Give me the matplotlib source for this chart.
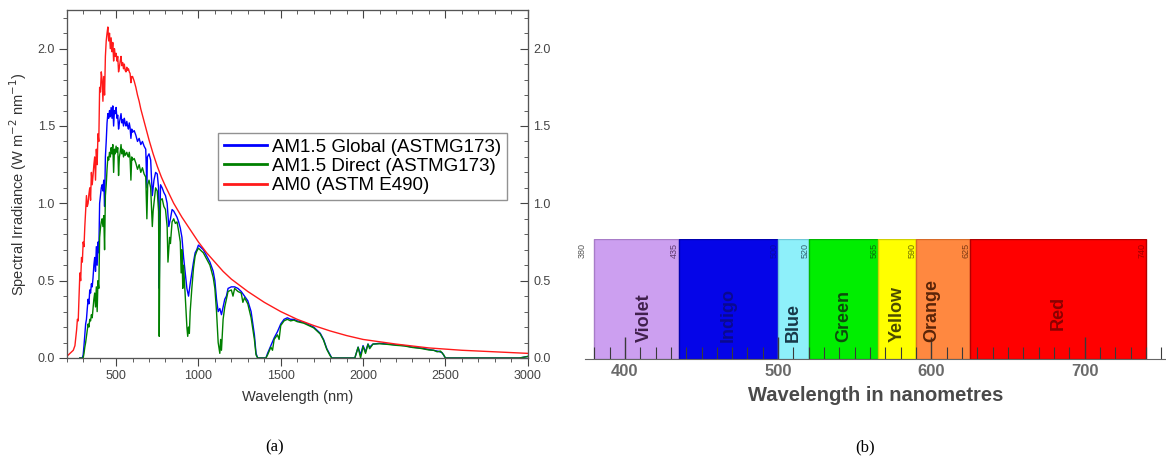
import matplotlib
matplotlib.use("Agg")
import matplotlib.pyplot as plt
from matplotlib.ticker import MultipleLocator

plt.rcParams['font.family'] = ['Liberation Sans', 'DejaVu Sans']

# ---- (a) solar spectra ----
am0_wl = [200, 220, 240, 250, 260, 265, 270, 275, 280, 285, 290, 295, 300, 305, 310, 315,
          320, 325, 330, 335, 340, 345, 350, 355, 360, 365, 370, 375, 380, 385, 390, 395,
          400, 405, 410, 415, 420, 425, 430, 435, 440, 445, 450, 455, 460, 465, 470, 475,
          480, 485, 490, 495, 500, 505, 510, 515, 520, 525, 530, 535, 540, 545, 550, 555,
          560, 565, 570, 575, 580, 585, 590, 595, 600, 610, 620, 630, 640, 650, 660, 670,
          680, 690, 700, 725, 750, 775, 800, 850, 900, 950, 1000, 1050, 1100, 1150, 1200,
          1250, 1300, 1400, 1500, 1600, 1700, 1800, 1900, 2000, 2200, 2400, 2600, 2800, 3000]
am0_val = [0.01, 0.03, 0.05, 0.08, 0.18, 0.25, 0.24, 0.40, 0.55, 0.50, 0.65, 0.62, 0.75, 0.72, 0.85, 0.95,
           1.05, 0.98, 1.00, 1.06, 1.10, 1.02, 1.20, 1.12, 1.18, 1.25, 1.30, 1.15, 1.35, 1.25, 1.45, 1.40,
           1.75, 1.72, 1.85, 1.80, 1.66, 1.82, 1.70, 1.95, 2.05, 2.10, 2.14, 2.05, 2.10, 2.00, 2.07, 1.98,
           2.04, 1.92, 2.00, 1.95, 1.97, 1.92, 1.95, 1.85, 1.88, 1.92, 1.95, 1.89, 1.91, 1.87, 1.90, 1.86,
           1.85, 1.88, 1.86, 1.87, 1.85, 1.84, 1.78, 1.82, 1.82, 1.79, 1.75, 1.70, 1.66, 1.61, 1.57, 1.53,
           1.49, 1.45, 1.41, 1.32, 1.24, 1.17, 1.11, 1.00, 0.91, 0.83, 0.75, 0.68, 0.62, 0.56, 0.51,
           0.47, 0.43, 0.36, 0.30, 0.25, 0.21, 0.175, 0.145, 0.12, 0.09, 0.065, 0.05, 0.04, 0.03]

glob_wl = [280, 295, 300, 305, 310, 315, 320, 325, 330, 335, 340, 345, 350, 355, 360, 365,
           370, 375, 380, 385, 390, 395, 400, 405, 410, 415, 420, 425, 430, 435, 440, 445,
           450, 455, 460, 465, 470, 475, 480, 485, 490, 495, 500, 505, 510, 515, 520, 525,
           530, 535, 540, 545, 550, 555, 560, 565, 570, 575, 580, 585, 590, 595, 600, 610,
           620, 630, 640, 650, 660, 670, 680, 687, 690, 700, 710, 720, 730, 740, 750, 758,
           762, 766, 770, 780, 790, 800, 810, 820, 830, 840, 850, 860, 870, 880, 890, 900,
           910, 920, 930, 940, 950, 960, 970, 980, 990, 1000, 1010, 1030, 1050, 1070, 1090,
           1100, 1110, 1120, 1130, 1140, 1150, 1160, 1170, 1180, 1200, 1220, 1240, 1260,
           1280, 1300, 1320, 1340, 1350, 1360, 1410, 1420, 1440, 1460, 1480, 1500, 1520,
           1540, 1560, 1580, 1600, 1620, 1640, 1660, 1680, 1700, 1720, 1740, 1760, 1780,
           1800, 1810, 1950, 1970, 1985, 2000, 2015, 2030, 2040, 2060, 2100, 2150, 2200,
           2250, 2300, 2350, 2400, 2450, 2480, 2500, 2950, 3000]
glob_val = [0, 0, 0.02, 0.08, 0.15, 0.22, 0.25, 0.32, 0.38, 0.35, 0.44, 0.42, 0.48, 0.46, 0.52, 0.60,
            0.65, 0.56, 0.72, 0.60, 0.75, 0.68, 1.00, 1.05, 1.10, 1.12, 1.08, 1.15, 0.98, 1.30, 1.40, 1.52,
            1.58, 1.55, 1.60, 1.56, 1.62, 1.55, 1.63, 1.50, 1.60, 1.58, 1.62, 1.55, 1.57, 1.48, 1.52, 1.55,
            1.58, 1.52, 1.54, 1.50, 1.55, 1.52, 1.50, 1.53, 1.50, 1.48, 1.52, 1.49, 1.42, 1.48, 1.46, 1.47,
            1.44, 1.40, 1.42, 1.38, 1.40, 1.37, 1.35, 1.10, 1.30, 1.32, 1.28, 1.05, 1.15, 1.20, 1.19, 1.10,
            0.45, 0.90, 1.12, 1.10, 1.07, 1.05, 1.00, 0.85, 0.90, 0.96, 0.95, 0.93, 0.91, 0.88, 0.84, 0.78,
            0.65, 0.55, 0.45, 0.40, 0.48, 0.55, 0.62, 0.68, 0.70, 0.73, 0.72, 0.70, 0.66, 0.62, 0.56,
            0.50, 0.38, 0.30, 0.32, 0.28, 0.33, 0.38, 0.40, 0.45, 0.46, 0.46, 0.45, 0.43,
            0.40, 0.37, 0.30, 0.15, 0.03, 0, 0, 0.03, 0.08, 0.13, 0.17, 0.22, 0.25,
            0.26, 0.25, 0.25, 0.24, 0.235, 0.23, 0.22, 0.21, 0.20, 0.18, 0.16, 0.12, 0.06,
            0.02, 0, 0, 0.07, 0.02, 0.08, 0.04, 0.09, 0.07, 0.09, 0.095, 0.09, 0.085,
            0.08, 0.07, 0.065, 0.055, 0.045, 0.035, 0, 0, 0.01]

direct_wl = [280, 300, 305, 310, 315, 320, 325, 330, 335, 340, 345, 350, 355, 360, 365, 370,
             375, 380, 385, 390, 395, 400, 405, 410, 415, 420, 425, 430, 435, 440, 445, 450,
             455, 460, 465, 470, 475, 480, 485, 490, 495, 500, 505, 510, 515, 520, 525, 530,
             535, 540, 545, 550, 555, 560, 565, 570, 575, 580, 585, 590, 595, 600, 610, 620,
             630, 640, 650, 660, 670, 680, 687, 692, 700, 710, 720, 725, 730, 740, 750, 758,
             762, 766, 770, 780, 790, 800, 810, 815, 820, 825, 830, 840, 850, 860, 870, 880,
             890, 895, 900, 905, 910, 920, 930, 935, 940, 945, 950, 960, 970, 980, 990, 1000,
             1010, 1030, 1050, 1070, 1090, 1100, 1110, 1120, 1130, 1135, 1140, 1150, 1160,
             1170, 1180, 1200, 1210, 1220, 1240, 1260, 1270, 1280, 1300, 1320, 1340, 1350,
             1360, 1410, 1420, 1440, 1450, 1460, 1480, 1490, 1500, 1520, 1540, 1560, 1580,
             1600, 1620, 1640, 1660, 1680, 1700, 1720, 1740, 1760, 1780, 1800, 1810, 1950,
             1970, 1985, 2000, 2015, 2030, 2040, 2060, 2100, 2150, 2200, 2250, 2300, 2350,
             2400, 2430, 2450, 2470, 2490, 2500, 2950, 3000]
direct_val = [0, 0, 0.03, 0.07, 0.10, 0.14, 0.18, 0.22, 0.20, 0.25, 0.24, 0.28, 0.26, 0.32, 0.38, 0.42,
              0.33, 0.46, 0.30, 0.50, 0.45, 0.78, 0.84, 0.88, 0.90, 0.85, 0.92, 0.70, 1.05, 1.12, 1.22, 1.30,
              1.28, 1.33, 1.30, 1.36, 1.32, 1.38, 1.20, 1.35, 1.32, 1.37, 1.33, 1.36, 1.18, 1.30, 1.33, 1.38,
              1.32, 1.35, 1.30, 1.34, 1.31, 1.32, 1.33, 1.31, 1.30, 1.33, 1.29, 1.15, 1.30, 1.28, 1.29, 1.26,
              1.22, 1.25, 1.20, 1.23, 1.19, 1.17, 0.90, 1.12, 1.15, 1.10, 0.85, 0.95, 1.00, 1.10, 1.08, 0.95,
              0.14, 0.75, 1.02, 1.03, 0.98, 0.96, 0.85, 0.62, 0.70, 0.78, 0.74, 0.88, 0.90, 0.87, 0.88, 0.82,
              0.75, 0.55, 0.70, 0.45, 0.60, 0.40, 0.20, 0.14, 0.20, 0.16, 0.30, 0.45, 0.58, 0.66, 0.69, 0.71,
              0.70, 0.68, 0.64, 0.60, 0.52, 0.45, 0.30, 0.10, 0.03, 0.12, 0.05, 0.25, 0.33,
              0.38, 0.43, 0.44, 0.40, 0.45, 0.43, 0.42, 0.36, 0.39, 0.35, 0.26, 0.12, 0.02,
              0, 0, 0.02, 0.07, 0.05, 0.12, 0.15, 0.12, 0.21, 0.24, 0.25, 0.24, 0.245,
              0.235, 0.23, 0.225, 0.215, 0.205, 0.195, 0.175, 0.155, 0.115, 0.055, 0.015, 0, 0,
              0.07, 0.0, 0.075, 0.03, 0.09, 0.06, 0.09, 0.092, 0.088, 0.082, 0.078, 0.068, 0.062,
              0.052, 0.05, 0.04, 0.045, 0.02, 0, 0, 0.01]

# ---- (b) visible spectrum bands ----
band_names = ['Violet', 'Indigo', 'Blue', 'Green', 'Yellow', 'Orange', 'Red']
band_start = [380, 435, 500, 520, 565, 590, 625]
band_end = [435, 500, 520, 565, 590, 625, 740]
band_colors = ['#cc9ff0', '#0505e8', '#8ef0fa', '#00ee00', '#ffff00', '#ff8840', '#ff0000']
band_edges = ['#a87cc8', '#0000b0', '#70c8d8', '#00b800', '#d0d000', '#d86a28', '#b00000']
band_text = ['#40204c', '#0a0a90', '#183848', '#0e4a0e', '#4a4a00', '#5a2408', '#8a0000']
edge_labels = ['435', '500', '520', '565', '590', '625', '740']
spec_ticks = [400, 500, 600, 700]

fig = plt.figure(figsize=(11.66, 4.63), dpi=100)

# panel (a)
ax = fig.add_axes([66.7 / 1166, 105 / 463, 461 / 1166, 348 / 463])
ax.plot(glob_wl, glob_val, color='#0000ff', lw=1.0, label='AM1.5 Global (ASTMG173)')
ax.plot(direct_wl, direct_val, color='#008000', lw=1.0, label='AM1.5 Direct (ASTMG173)')
ax.plot(am0_wl, am0_val, color='#ff1a1a', lw=1.0, label='AM0 (ASTM E490)')
ax.set_xlim(200, 3000)
ax.set_ylim(0, 2.25)
ax.xaxis.set_major_locator(MultipleLocator(500))
ax.xaxis.set_minor_locator(MultipleLocator(100))
ax.yaxis.set_major_locator(MultipleLocator(0.5))
ax.yaxis.set_minor_locator(MultipleLocator(0.1))
ax.yaxis.set_major_formatter(plt.FormatStrFormatter('%.1f'))
ax.tick_params(which='both', direction='out', colors='#444444', labelsize=9, pad=3)
ax.tick_params(which='major', length=5.5)
ax.tick_params(which='minor', length=3)

# right axis: inward ticks with labels
ax2 = ax.twinx()
ax2.set_ylim(ax.get_ylim())
ax2.yaxis.set_major_locator(MultipleLocator(0.5))
ax2.yaxis.set_minor_locator(MultipleLocator(0.1))
ax2.yaxis.set_major_formatter(plt.FormatStrFormatter('%.1f'))
ax2.tick_params(which='both', direction='in', colors='#444444', labelsize=9, pad=4)
ax2.tick_params(which='major', length=5.5)
ax2.tick_params(which='minor', length=3)

# top axis: inward ticks, no labels
ax3 = ax.twiny()
ax3.set_xlim(ax.get_xlim())
ax3.xaxis.set_major_locator(MultipleLocator(500))
ax3.xaxis.set_minor_locator(MultipleLocator(100))
ax3.tick_params(which='both', direction='in', colors='#444444', labeltop=False)
ax3.tick_params(which='major', length=5.5)
ax3.tick_params(which='minor', length=3)
for a in [ax, ax2, ax3]:
    for s in a.spines.values():
        s.set_color('#555555')
ax.set_xlabel('Wavelength (nm)', fontsize=10.5, color='#333333', labelpad=6)
ax.set_ylabel('Spectral Irradiance (W m$^{-2}$ nm$^{-1}$)', fontsize=10.5, color='#333333', labelpad=6)
leg = ax3.legend(*ax.get_legend_handles_labels(), loc='upper left',
                 bbox_to_anchor=(0.328, 0.647), borderaxespad=0,
                 fancybox=False, fontsize=13.5, handlelength=2.3, labelspacing=0.12,
                 borderpad=0.3, handletextpad=0.3)
leg.get_frame().set_edgecolor('#777777')
leg.get_frame().set_linewidth(1.0)
for line in leg.get_lines():
    line.set_linewidth(2.0)

# panel (b)
bx = fig.add_axes([585 / 1166, 1 - 359 / 463, 581 / 1166, 120 / 463])
for name, x0, x1, c, ec, tc, lab in zip(band_names, band_start, band_end, band_colors,
                                        band_edges, band_text, edge_labels):
    bx.bar(x0, 1.0, width=x1 - x0, align='edge', color=c, edgecolor=ec, linewidth=1.0)
    frac = {'Orange': 0.3, 'Violet': 0.6}.get(name, 0.5)
    mid = x0 + (x1 - x0) * frac
    ybot = 0.24 if name == 'Red' else 0.14
    bx.text(mid, ybot, name, rotation=90, ha='center', va='bottom', fontsize=13,
            fontweight='bold', color=tc)
    bx.text(x1 - 2.5, 0.97, lab, rotation=90, ha='center', va='top', fontsize=6.5,
            color=tc, alpha=0.8)
bx.text(372, 0.97, '380', rotation=90, ha='center', va='top', fontsize=6.5, color='#555555')
bx.set_xlim(374, 753)
bx.set_ylim(0, 1)
bx.set_xticks(spec_ticks)
bx.xaxis.set_minor_locator(MultipleLocator(10))
bx.tick_params(axis='x', which='both', direction='in', colors='#3a3a3a', labelcolor='#6a6a6a',
               labelsize=12)
bx.tick_params(axis='x', which='major', length=16, width=1.0)
bx.tick_params(axis='x', which='minor', length=8.5, width=0.8)
for lbl in bx.get_xticklabels():
    lbl.set_fontweight('bold')
bx.set_yticks([])
for k in ['top', 'left', 'right']:
    bx.spines[k].set_visible(False)
bx.spines['bottom'].set_color('#666666')
bx.set_xlabel('Wavelength in nanometres', fontsize=14.5, fontweight='bold', color='#4a4a4a',
              labelpad=5)

fig.text(275 / 1166, 1 - 447 / 463, '(a)', ha='center', va='center', fontsize=12,
         family=['Liberation Serif', 'DejaVu Serif'])
fig.text(865 / 1166, 1 - 447 / 463, '(b)', ha='center', va='center', fontsize=12,
         family=['Liberation Serif', 'DejaVu Serif'])

fig.savefig('out.png', dpi=100)
